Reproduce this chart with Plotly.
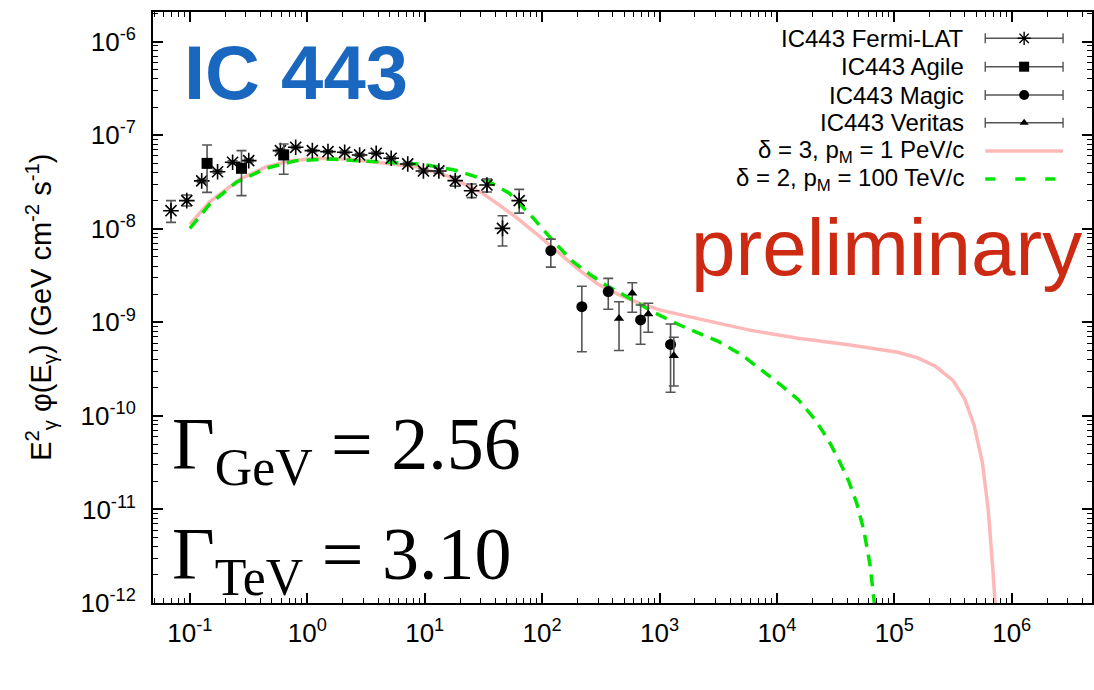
import plotly.graph_objects as go

# ---------------- data ----------------
fermi_E = [0.069, 0.094, 0.126, 0.172, 0.231, 0.317, 0.59, 0.796, 1.104, 1.50, 2.08,
           2.79, 3.86, 5.18, 7.17, 9.75, 13.2, 18.2, 25.1, 33.9, 46.0, 63.8]
fermi_F = [1.56e-8, 2.0e-8, 3.25e-8, 4.07e-8, 5.14e-8, 5.35e-8, 6.84e-8, 7.43e-8, 6.84e-8,
           6.67e-8, 6.57e-8, 6.15e-8, 6.41e-8, 5.67e-8, 4.93e-8, 4.15e-8, 4.15e-8, 3.27e-8,
           2.55e-8, 2.94e-8, 1.01e-8, 2.0e-8]
fermi_up = [0.44e-8, 0.30e-8, 0.13e-8, 0.16e-8, 0.20e-8, 0.20e-8, 0.25e-8, 0.25e-8, 0.20e-8,
            0.20e-8, 0.20e-8, 0.20e-8, 0.20e-8, 0.20e-8, 0.20e-8, 0.20e-8, 0.25e-8, 0.34e-8,
            0.46e-8, 0.46e-8, 0.37e-8, 0.64e-8]
fermi_dn = [0.39e-8, 0.25e-8, 0.12e-8, 0.15e-8, 0.18e-8, 0.18e-8, 0.22e-8, 0.22e-8, 0.18e-8,
            0.18e-8, 0.18e-8, 0.18e-8, 0.18e-8, 0.18e-8, 0.18e-8, 0.18e-8, 0.22e-8, 0.41e-8,
            0.40e-8, 0.47e-8, 0.355e-8, 0.53e-8]

agile_E = [0.140, 0.275, 0.629]
agile_F = [5.0e-8, 4.43e-8, 6.15e-8]
agile_up = [2.87e-8, 2.41e-8, 1.90e-8]
agile_dn = [2.55e-8, 2.17e-8, 2.33e-8]

magic_E = [118.6, 218, 366, 690, 1242]
magic_F = [5.83e-9, 1.47e-9, 2.13e-9, 1.06e-9, 5.8e-10]
magic_up = [1.93e-9, 0.96e-9, 0.82e-9, 0.47e-9, 3.79e-10]
magic_dn = [1.94e-9, 0.985e-9, 0.75e-9, 0.478e-9, 4.01e-10]

veritas_E = [452, 586, 802, 1324]
veritas_F = [1.10e-9, 2.04e-9, 1.23e-9, 4.4e-10]
veritas_up = [0.56e-9, 0.61e-9, 0.37e-9, 2.52e-10]
veritas_dn = [0.60e-9, 0.76e-9, 0.447e-9, 2.31e-10]

pink_E = [0.1, 0.148, 0.266, 0.449, 0.708, 1.194, 2.29, 4.40, 8.45, 16.2, 31.1, 43.2, 59.8,
          88.5, 115, 140, 200, 300, 450, 668, 1000, 1778, 3199, 6000, 1.51e4, 4.07e4, 1.07e5,
          1.58e5, 2.24e5, 3.16e5, 3.98e5, 4.79e5, 5.62e5, 6.31e5, 6.92e5, 7.41e5]
pink_F = [1.117e-8, 1.95e-8, 3.38e-8, 4.61e-8, 5.31e-8, 5.66e-8, 5.53e-8, 5.09e-8, 4.61e-8,
          3.61e-8, 2.40e-8, 1.79e-8, 1.33e-8, 8.95e-9, 6.71e-9, 5.47e-9, 3.75e-9, 2.55e-9,
          1.98e-9, 1.60e-9, 1.36e-9, 1.15e-9, 9.77e-10, 8.2e-10, 6.76e-10, 5.75e-10, 4.79e-10,
          4.17e-10, 3.39e-10, 2.40e-10, 1.51e-10, 7.9e-11, 3.2e-11, 1.0e-11, 2.2e-12, 6.0e-13]

green_E = [0.1, 0.148, 0.249, 0.449, 0.807, 1.55, 2.61, 5.01, 9.62, 17.9, 33.3, 52.5, 82.8,
           122, 181, 260, 348, 500, 927, 1500, 2466, 3199, 5000, 7000, 1.05e4, 1.53e4, 2.1e4,
           2.75e4, 3.4e4, 4.07e4, 4.8e4, 5.5e4, 6.2e4, 6.9e4]
green_F = [1.01e-8, 1.84e-8, 3.14e-8, 4.44e-8, 5.35e-8, 5.57e-8, 5.35e-8, 5.14e-8, 4.89e-8,
           4.25e-8, 3.33e-8, 2.40e-8, 1.33e-8, 7.59e-9, 4.5e-9, 3.2e-9, 2.51e-9, 1.95e-9,
           1.25e-9, 9.3e-10, 7.03e-10, 6.21e-10, 4.5e-10, 3.24e-10, 2.2e-10, 1.48e-10,
           9.2e-11, 5.5e-11, 3.3e-11, 2.04e-11, 1.15e-11, 6.0e-12, 2.6e-12, 8.0e-13]

series_names = ["IC443 Fermi-LAT", "IC443 Agile", "IC443 Magic", "IC443 Veritas",
                "δ = 3, p<sub>M</sub> = 1 PeV/c", "δ = 2, p<sub>M</sub> = 100 TeV/c"]

x_tick_exp = [-1, 0, 1, 2, 3, 4, 5, 6]
y_tick_exp = [-12, -11, -10, -9, -8, -7, -6]

# ---------------- styles ----------------
PINK = "#ffb8b8"
GREEN = "#00e400"
ERRC = "#555555"
FONT = "Liberation Sans, Arial, sans-serif"
SERIF = "Liberation Serif, DejaVu Serif, serif"

def err(up, dn):
    return dict(type="data", symmetric=False, array=up, arrayminus=dn,
                color=ERRC, thickness=1.6, width=5)

fig = go.Figure()

fig.add_trace(go.Scatter(x=pink_E, y=pink_F, mode="lines",
                         line=dict(color=PINK, width=3.5), showlegend=False))
fig.add_trace(go.Scatter(x=green_E, y=green_F, mode="lines",
                         line=dict(color=GREEN, width=3.5, dash="12px,8px"), showlegend=False))

fig.add_trace(go.Scatter(x=fermi_E, y=fermi_F, mode="markers", error_y=err(fermi_up, fermi_dn),
                         marker=dict(symbol="asterisk-open", size=13, color="black",
                                     line=dict(color="black", width=1.6)), showlegend=False))
fig.add_trace(go.Scatter(x=agile_E, y=agile_F, mode="markers", error_y=err(agile_up, agile_dn),
                         marker=dict(symbol="square", size=11, color="black"), showlegend=False))
fig.add_trace(go.Scatter(x=magic_E, y=magic_F, mode="markers", error_y=err(magic_up, magic_dn),
                         marker=dict(symbol="circle", size=11, color="black"), showlegend=False))
fig.add_trace(go.Scatter(x=veritas_E, y=veritas_F, mode="markers",
                         error_y=err(veritas_up, veritas_dn),
                         marker=dict(symbol="triangle-up", size=9, color="black"), showlegend=False))

# ---------------- custom legend (overlay axes in pixel units) ----------------
leg_rows = [38.3, 66.7, 95, 122.7, 151, 179]
leg_x0, leg_x1, leg_text_x = 987, 1065, 968
leg_mid = (leg_x0 + leg_x1) / 2
leg_half = (leg_x1 - leg_x0) / 2
leg_markers = [dict(symbol="asterisk-open", size=11, color="black", line=dict(color="black", width=1.4)),
               dict(symbol="square", size=10, color="black"),
               dict(symbol="circle", size=10, color="black"),
               dict(symbol="triangle-up", size=8, color="black")]
for i in range(4):
    fig.add_trace(go.Scatter(x=[leg_mid], y=[leg_rows[i]], xaxis="x2", yaxis="y2", mode="markers",
                             marker=leg_markers[i], showlegend=False,
                             error_x=dict(type="constant", value=leg_half, color=ERRC,
                                          thickness=1.4, width=5)))
fig.add_trace(go.Scatter(x=[leg_x0, leg_x1], y=[leg_rows[4]] * 2, xaxis="x2", yaxis="y2",
                         mode="lines", line=dict(color=PINK, width=3.5), showlegend=False))
fig.add_trace(go.Scatter(x=[leg_x0, leg_x1], y=[leg_rows[5]] * 2, xaxis="x2", yaxis="y2",
                         mode="lines", line=dict(color=GREEN, width=3.5, dash="10px,20px"),
                         showlegend=False))

annotations = []
for i, name in enumerate(series_names):
    annotations.append(dict(x=leg_text_x, y=leg_rows[i], xref="x2", yref="y2", text=name,
                            showarrow=False, xanchor="right", yanchor="middle",
                            font=dict(family=FONT, size=24, color="black")))

annotations += [
    dict(x=296, y=72, xref="x2", yref="y2", text="<b>IC 443</b>", showarrow=False,
         xanchor="center", yanchor="middle", font=dict(family=FONT, size=76, color="#1a67bf")),
    dict(x=888, y=247, xref="x2", yref="y2", text="preliminary", showarrow=False,
         xanchor="center", yanchor="middle", font=dict(family=FONT, size=80, color="#cc2a12")),
    dict(x=170, y=449, xref="x2", yref="y2", text="Γ<sub>GeV</sub> = 2.56", showarrow=False,
         xanchor="left", yanchor="middle", font=dict(family=SERIF, size=74, color="black")),
    dict(x=170, y=559, xref="x2", yref="y2", text="Γ<sub>TeV</sub> = 3.10", showarrow=False,
         xanchor="left", yanchor="middle", font=dict(family=SERIF, size=74, color="black")),
    dict(x=-0.12, y=0.5, xref="paper", yref="paper", textangle=-90,
         text="E<sup>2</sup><sub>γ</sub> φ(E<sub>γ</sub>) (GeV cm<sup>-2</sup> s<sup>-1</sup>)",
         showarrow=False, xanchor="center", yanchor="middle",
         font=dict(family=FONT, size=29, color="black")),
    dict(x=625, y=665, xref="x2", yref="y2", text="E<sub>γ</sub> (GeV)", showarrow=False,
         xanchor="center", yanchor="middle", font=dict(family=FONT, size=25, color="black")),
]

axis_common = dict(type="log", showgrid=False, zeroline=False, showline=True, linecolor="black",
                   linewidth=2, mirror="ticks", ticks="inside", ticklen=10, tickwidth=1.5,
                   tickcolor="black", tickfont=dict(family=FONT, size=26, color="black"),
                   minor=dict(ticks="inside", ticklen=5, tickwidth=1, tickcolor="black",
                              dtick="D1", showgrid=False))

fig.update_layout(
    width=1094, height=690,
    margin=dict(l=153, r=0, t=12, b=87),
    paper_bgcolor="white", plot_bgcolor="white",
    showlegend=False,
    xaxis=dict(**axis_common, range=[-1.3145, 6.684],
               tickmode="array", tickvals=[10.0 ** e for e in x_tick_exp],
               ticktext=[f"10<sup>{e}</sup>" for e in x_tick_exp], ticklabelstandoff=6),
    yaxis=dict(**axis_common, range=[-12, -5.683],
               tickmode="array", tickvals=[10.0 ** e for e in y_tick_exp],
               ticktext=[f"10<sup>{e}</sup>" for e in y_tick_exp], ticklabelstandoff=10),
    xaxis2=dict(domain=[0, 1], range=[153, 1094], overlaying="x", anchor="y2", visible=False,
                fixedrange=True),
    yaxis2=dict(domain=[0, 1], range=[603, 12], overlaying="y", anchor="x2", visible=False,
                fixedrange=True),
    annotations=annotations,
)

fig.write_html("out.html")
